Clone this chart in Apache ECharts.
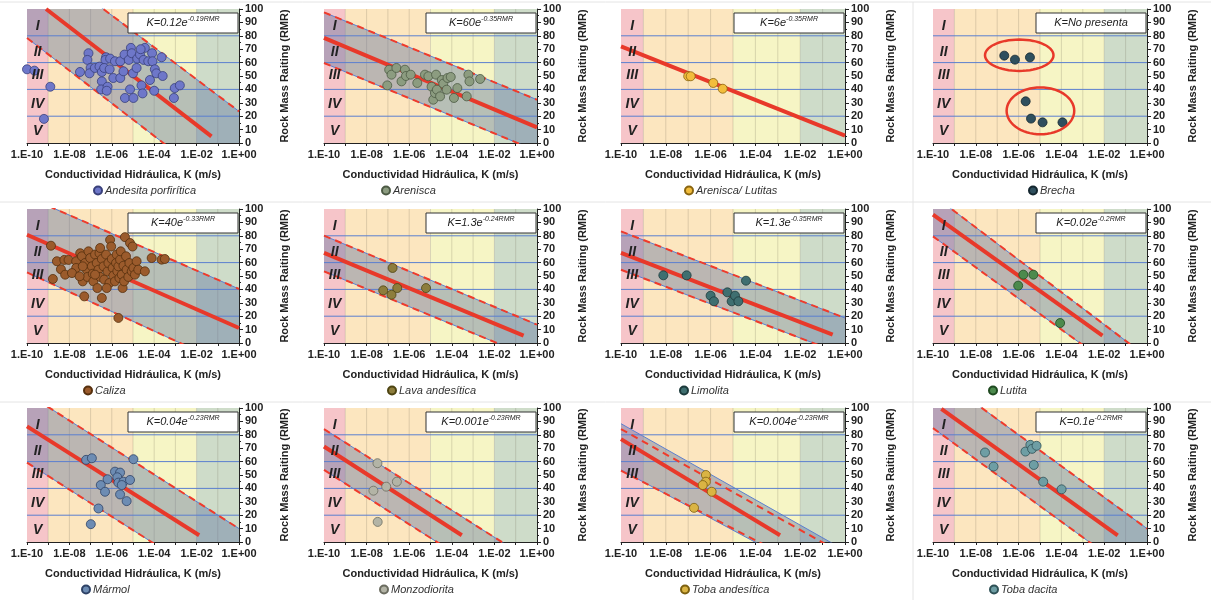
<!DOCTYPE html>
<html>
<head>
<meta charset="utf-8">
<script src="https://cdn.jsdelivr.net/npm/echarts@6/dist/echarts.min.js"></script>
<style>
  html, body { margin: 0; padding: 0; background: #fff; }
  #chart { width: 1211px; height: 600px; }
</style>
</head>
<body>
<div id="chart"></div>
<script>
// x values are log10 of K (m/s), y values are RMR
const xMin = -10, xMax = 0;
const zoneNames = ['I', 'II', 'III', 'IV', 'V'];
const zoneRMR = [87, 68, 51, 29, 9];
const zoneLogK = -9.5;
const bandSpans = [[-10, -9], [-9, -5], [-5, -2], [-2, 0]];
const bandColors = ['#f6c5c9', '#fce6bf', '#f6f5c5', '#cedcc9'];
const blueLines = [20, 40, 60, 80];
const decades = [-9, -8, -7, -6, -5, -4, -3, -2, -1];

const rockNames = ['Andesita porfirítica', 'Arenisca', 'Arenisca/ Lutitas', 'Brecha', 'Caliza', 'Lava andesítica',
  'Limolita', 'Lutita', 'Mármol', 'Monzodiorita', 'Toba andesítica', 'Toba dacita'];
const eqCoef = ['0.12', '60', '6', null, '40', '1.3', '1.3', '0.02', '0.04', '0.001', '0.004', '0.1'];
const eqExp = ['-0.19', '-0.35', '-0.35', null, '-0.33', '-0.24', '-0.35', '-0.2', '-0.23', '-0.23', '-0.23', '-0.2'];
const pointColors = ['#6e77c9', '#8c9c80', '#f2bd3c', '#2f4f5e', '#9b5b2c', '#8d7d3c', '#3f6f70', '#4c8a4d', '#6d8cb3', '#b3b4a6', '#dab443', '#6e9ea4'];
const pointBorders = ['#39407a', '#4c5a44', '#8a6510', '#14262e', '#56300e', '#4d4412', '#1c3a3b', '#1f4a20', '#2e4266', '#6b6c60', '#7c6010', '#2e5156'];

// [log10 K, RMR]
const andesitaPorfiritica = [[-10.0,55],[-9.65,54],[-8.9,42],[-9.2,18],[-7.5,53],[-7.1,67],[-7.15,62],[-7.0,56],[-7.05,52],[-6.8,56],
  [-6.58,57],[-6.47,53],[-6.47,46],[-6.5,40],[-6.27,64],[-6.3,62],[-6.2,42],[-6.24,39],[-6.36,56],[-6.1,55],[-6.08,63],[-5.93,48.5],
  [-5.85,61],[-5.6,61],[-5.6,48.5],[-5.45,53.5],[-5.4,66],[-5.38,33.6],[-5.2,62],[-5.14,40],[-5.1,71],[-5.06,67],[-4.98,33.6],[-5.0,52],
  [-4.83,56],[-4.8,63],[-4.67,66],[-4.6,43],[-4.55,37],[-4.44,71],[-4.5,62],[-4.64,70],[-4.28,61],[-4.2,47],[-4.1,67],[-4.08,61],
  [-4.0,39],[-3.97,55],[-3.9,52],[-3.65,64],[-3.6,50],[-3.07,33.6],[-3.03,41],[-2.79,43]];
const arenisca = [[-7.03,43],[-6.94,54.7],[-6.83,51],[-6.6,56],[-6.36,46],[-6.2,54.7],[-6.15,50],[-5.93,51],[-5.62,44.8],[-5.26,51],
  [-5.1,49.8],[-4.95,42],[-4.87,32.3],[-4.79,37.3],[-4.74,51],[-4.7,39.8],[-4.55,34.8],[-4.47,47],[-4.4,44.3],[-4.24,39.8],[-4.2,48.5],
  [-4.05,49.3],[-3.9,33.6],[-3.74,41],[-3.3,34.8],[-3.22,51],[-3.17,46],[-2.67,47.8]];
const areniscaLutitas = [[-7.0,49.8],[-6.89,49.8],[-5.88,44.8],[-5.46,40.5]];
const brecha = [[-6.67,65.2],[-6.17,62.2],[-5.47,63.9],[-5.67,31.1],[-5.42,18.2],[-4.88,15.4],[-3.95,15.4]];
const caliza = [[-8.87,72.6],[-8.78,47.8],[-8.59,61],[-8.4,55],[-8.24,62],[-8.2,51],[-8.04,62],[-7.68,61],[-7.49,67],[-7.41,64.7],
  [-7.37,46],[-7.3,34.8],[-7.26,59.7],[-7.18,54.7],[-7.15,49.3],[-7.1,68.4],[-7.02,63.4],[-6.94,57.2],[-6.9,51.7],[-6.87,46],[-6.79,66],
  [-6.71,59.7],[-6.68,41],[-6.63,54.7],[-6.58,67],[-6.55,49.3],[-6.47,62.7],[-6.47,33.6],[-6.39,57.2],[-6.36,47.3],[-6.27,66],[-6.2,53.5],
  [-6.16,59.7],[-6.11,44.8],[-6.08,77],[-6.03,72],[-6.0,62.7],[-5.96,56],[-5.93,50.2],[-5.85,46],[-5.8,59.7],[-5.77,66],[-5.74,53.5],
  [-5.69,57.2],[-5.69,18.7],[-5.64,48.5],[-5.61,62.2],[-5.58,68.4],[-5.53,51],[-5.49,41],[-5.45,57.7],[-5.42,46],[-5.38,79],[-5.33,64.7],
  [-5.3,54.7],[-5.22,49.3],[-5.17,59.7],[-5.14,74.6],[-5.06,53.5],[-5.02,72],[-4.98,56],[-4.91,51],[-4.83,61],[-4.75,54.7],[-4.44,53.5],
  [-4.12,63.4],[-3.65,62.2],[-3.5,62.7],[-7.68,56],[-7.88,52.2],[-7.37,57.2],[-7.52,49.8],[-6.24,41],[-6.79,51],[-6.55,70.9]];
const lavaAndesitica = [[-6.78,56],[-7.22,39.3],[-6.83,36],[-6.56,41],[-5.21,41]];
const limolita = [[-8.11,50.5],[-7.07,50.5],[-6.0,35.3],[-5.85,31.1],[-5.25,37.8],[-5.06,31.1],[-4.91,35.3],[-4.76,31.1],[-4.42,46.5]];
const lutita = [[-5.78,51],[-5.31,51],[-6.02,42.8],[-4.06,14.9]];
const marmol = [[-7.21,61.3],[-6.94,62.5],[-4.98,61.8],[-5.85,52.5],[-5.61,51.8],[-5.74,48.3],[-5.69,44.3],[-5.45,45],[-5.14,46.3],
  [-6.2,46.8],[-6.52,42.5],[-6.32,37.5],[-5.61,35.5],[-5.3,30.5],[-6.63,25],[-6.99,13.3],[-5.53,42.5]];
const monzodiorita = [[-7.49,58.8],[-7.68,38.3],[-7.08,41.3],[-6.58,45],[-7.48,15]];
const tobaAndesitica = [[-6.21,50],[-6.21,45],[-6.35,42.5],[-5.95,37.5],[-6.74,25.5]];
const tobaDacita = [[-7.57,66.8],[-7.17,56.3],[-5.68,67.5],[-5.45,72.5],[-5.37,69.5],[-5.16,71.8],[-5.29,57.5],[-4.85,45],[-3.99,39.3]];

const pointSets = [andesitaPorfiritica, arenisca, areniscaLutitas, brecha, caliza, lavaAndesitica,
  limolita, lutita, marmol, monzodiorita, tobaAndesitica, tobaDacita];

// red fit lines (end points)
const fitLines = [
  [[-9.1,100],[-1.3,5]], [[-10,78.4],[0,11.7]], [[-10,72.1],[0,5.5]], null,
  [[-10,80.8],[0,11.2]], [[-10,67.2],[-0.63,5.5]], [[-10,67.2],[-0.55,6.2]], [[-10,95.8],[-2.08,5.5]],
  [[-10,86.3],[-1.88,5]], [[-10,71.3],[-3.53,5]], [[-10,76.8],[-2.9,5]], [[-9.61,99.3],[-1.37,5]]
];
// envelope edges, values at log K = -10 and 0
const upperEdges = [
  [[-10,143],[0,23.6]], [[-10,97.5],[0,32.3]], null, null,
  [[-10,109.2],[0,40.3]], [[-10,80.1],[0,13.7]], [[-10,83.3],[0,18.7]], [[-10,110.4],[0,-10.4]],
  [[-10,110.8],[0,10]], [[-10,84.3],[0,-16.7]], [[-10,88.3],[0,-6.3]], [[-10,126.6],[0,10]]
];
const lowerEdges = [
  [[-10,78.4],[0,-43.5]], [[-10,59.7],[0,-6]], null, null,
  [[-10,52.7],[0,-20.3]], [[-10,53.5],[0,-12.4]], [[-10,54.7],[0,-9]], [[-10,79.6],[0,-36.3]],
  [[-10,59.3],[0,-41.6]], [[-10,53.8],[0,-47.7]], [[-10,53.8],[0,-36.2]], [[-10,85],[0,-31.4]]
];
// toba andesitica dashed lines sit a bit off the band edges
const tobaDashUpper = [[-10,84.3],[0,-9.8]];
const tobaDashLower = [[-10,53.3],[0,-33.3]];
const dashUpper = upperEdges.map((e, i) => i === 10 ? tobaDashUpper : e);
const dashLower = lowerEdges.map((e, i) => i === 10 ? tobaDashLower : e);

// brecha ellipses: [centre log K, centre RMR, half width (decades), half height (RMR)]
const brechaEllipses = [[-5.97, 65.5, 1.6, 11.7], [-4.98, 24, 1.58, 17.5]];

const colLeft = [27, 324, 621, 933];
const colWidth = [212, 213, 224, 214];
const rowTop = [9, 209, 408];
const plotH = 134;
const legendLeft = [93, 381, 684, 1028, 83, 387, 679, 988, 81, 379, 680, 989];
const FONT = '"Liberation Sans", Arial, sans-serif';
const RED = '#e8392a';

function expLabel(v) {
  if (v === 0) return '1.E+00';
  return '1.E-' + String(-v).padStart(2, '0');
}

const grids = [], xAxes = [], yAxes = [], series = [], legends = [], graphics = [];

for (let i = 0; i < 12; i++) {
  const col = i % 4, row = Math.floor(i / 4);
  const left = colLeft[col], top = rowTop[row], width = colWidth[col];
  grids.push({ left: left, top: top, width: width, height: plotH, outerBoundsMode: 'none' });
  xAxes.push({
    gridIndex: i, type: 'value', min: xMin, max: xMax, interval: 1,
    axisLine: { show: true, onZero: false, lineStyle: { color: '#222' } },
    axisTick: { show: true, length: 3, lineStyle: { color: '#222' } },
    axisLabel: {
      formatter: v => (v % 2 === 0 ? expLabel(v) : ''),
      fontWeight: 'bold', fontSize: 11, color: '#222', margin: 6, fontFamily: FONT
    },
    splitLine: { show: false },
    name: 'Conductividad Hidráulica, K (m/s)', nameLocation: 'middle', nameGap: 26,
    nameTextStyle: { fontWeight: 'bold', fontSize: 11, color: '#222', fontFamily: FONT }
  });
  yAxes.push({
    gridIndex: i, type: 'value', position: 'right', min: 0, max: 100, interval: 10,
    axisLine: { show: true, lineStyle: { color: '#222' } },
    axisTick: { show: true, length: 4, lineStyle: { color: '#222' } },
    minorTick: { show: true, splitNumber: 2, length: 2, lineStyle: { color: '#222' } },
    axisLabel: { fontWeight: 'bold', fontSize: 11, color: '#222', margin: 6, fontFamily: FONT },
    splitLine: { show: false },
    name: 'Rock Mass Raiting (RMR)', nameLocation: 'middle', nameRotate: 90, nameGap: 40,
    nameTextStyle: { fontWeight: 'bold', fontSize: 11, color: '#222', fontFamily: FONT }
  });

  const base = { xAxisIndex: i, yAxisIndex: i, silent: true, animation: false };

  // background bands
  series.push(Object.assign({}, base, {
    type: 'custom', z: 1, data: bandSpans,
    renderItem: (params, api) => {
      const p0 = api.coord([api.value(0), 100]);
      const p1 = api.coord([api.value(1), 0]);
      return { type: 'rect', shape: { x: p0[0], y: p0[1], width: p1[0] - p0[0], height: p1[1] - p0[1] },
        style: { fill: bandColors[params.dataIndex] } };
    }
  }));
  // faint decade lines
  series.push(Object.assign({}, base, {
    type: 'custom', z: 2, data: decades.map(d => [d]),
    renderItem: (params, api) => {
      const p0 = api.coord([api.value(0), 100]);
      const p1 = api.coord([api.value(0), 0]);
      return { type: 'line', shape: { x1: p0[0], y1: p0[1], x2: p1[0], y2: p1[1] },
        style: { stroke: 'rgba(110,100,80,0.22)', lineWidth: 1 } };
    }
  }));

  // band polygon
  if (upperEdges[i]) {
    const poly = [upperEdges[i][0], upperEdges[i][1], lowerEdges[i][1], lowerEdges[i][0]];
    series.push(Object.assign({}, base, {
      type: 'custom', z: 3, clip: true, data: poly,
      renderItem: (params, api) => {
        if (params.dataIndex !== 0) return null;
        return { type: 'polygon', shape: { points: poly.map(p => api.coord(p)) },
          style: { fill: 'rgba(90,110,160,0.4)' } };
      }
    }));
  }

  // blue horizontal lines
  series.push(Object.assign({}, base, {
    type: 'custom', z: 4, data: blueLines.map(v => [xMin, v]),
    renderItem: (params, api) => {
      const p0 = api.coord([xMin, api.value(1)]);
      const p1 = api.coord([xMax, api.value(1)]);
      return { type: 'line', shape: { x1: p0[0], y1: p0[1], x2: p1[0], y2: p1[1] },
        style: { stroke: '#5b7fcf', lineWidth: 1 } };
    }
  }));

  if (upperEdges[i]) {
    [upperEdges[i], lowerEdges[i]].forEach(edge => {
      series.push(Object.assign({}, base, {
        type: 'line', z: 5, data: edge, symbol: 'none', clip: true,
        lineStyle: { color: '#5b7fcf', width: 1 }
      }));
    });
    [dashUpper[i], dashLower[i]].forEach(edge => {
      series.push(Object.assign({}, base, {
        type: 'line', z: 6, data: edge, symbol: 'none', clip: true,
        lineStyle: { color: '#f03b2b', width: 2, type: [7, 5] }
      }));
    });
  }

  if (fitLines[i]) {
    series.push(Object.assign({}, base, {
      type: 'line', z: 7, data: fitLines[i], symbol: 'none', clip: true,
      lineStyle: { color: RED, width: 4 }
    }));
  }

  if (i === 3) {
    series.push(Object.assign({}, base, {
      type: 'custom', z: 9, data: brechaEllipses,
      renderItem: (params, api) => {
        const c = api.coord([api.value(0), api.value(1)]);
        const s = api.size([api.value(2), api.value(3)]);
        const pts = [];
        for (let k = 0; k < 60; k++) {
          const a = k / 60 * Math.PI * 2;
          pts.push([c[0] + s[0] * Math.cos(a), c[1] + s[1] * Math.sin(a)]);
        }
        return { type: 'polygon', shape: { points: pts }, style: { fill: 'none', stroke: RED, lineWidth: 2.5 } };
      }
    }));
  }

  // points
  series.push({
    name: rockNames[i], type: 'scatter', xAxisIndex: i, yAxisIndex: i, z: 8, animation: false,
    data: pointSets[i], symbol: 'circle', symbolSize: 9, clip: false,
    itemStyle: { color: pointColors[i], borderColor: pointBorders[i], borderWidth: 0.8, opacity: 1 }
  });

  // zone numerals
  series.push(Object.assign({}, base, {
    type: 'custom', z: 10, data: zoneRMR.map(v => [zoneLogK, v]),
    renderItem: (params, api) => {
      const p = api.coord([api.value(0), api.value(1)]);
      return { type: 'text', x: p[0], y: p[1],
        style: { text: zoneNames[params.dataIndex], font: 'italic bold 14px ' + FONT, fill: '#222',
          align: 'center', verticalAlign: 'middle' } };
    }
  }));

  legends.push({
    data: [rockNames[i]], left: legendLeft[i], top: top + 176, icon: 'circle', itemWidth: 8, itemHeight: 8,
    padding: 0, selectedMode: false,
    textStyle: { fontStyle: 'italic', fontSize: 11, color: '#333', fontFamily: FONT, padding: [0, 0, 0, -2] }
  });

  // equation box
  const bx = left + width - 111, by = top + 4;
  const eqText = eqCoef[i] ? '{a|K=' + eqCoef[i] + 'e}{b|' + eqExp[i] + 'RMR}' : '{a|K=No presenta}';
  graphics.push({ type: 'rect', shape: { x: bx, y: by, width: 110, height: 20 },
    style: { fill: '#fff', stroke: '#333', lineWidth: 1 }, z: 100, silent: true });
  graphics.push({ type: 'text', x: bx + 55, y: by + 10, z: 101, silent: true,
    style: { text: eqText, align: 'center', verticalAlign: 'middle',
      rich: {
        a: { fontSize: 11, fontStyle: 'italic', fontFamily: FONT, fill: '#222', lineHeight: 14 },
        b: { fontSize: 7, fontStyle: 'italic', fontFamily: FONT, fill: '#222', verticalAlign: 'top' }
      } } });
}

// light panel separators
[2, 202, 402].forEach(y => graphics.push({ type: 'line', shape: { x1: 0, y1: y, x2: 1211, y2: y },
  style: { stroke: '#e4e4e4', lineWidth: 1 }, silent: true }));
graphics.push({ type: 'line', shape: { x1: 913, y1: 2, x2: 913, y2: 600 }, style: { stroke: '#e4e4e4', lineWidth: 1 }, silent: true });

const chart = echarts.init(document.getElementById('chart'));
chart.setOption({
  animation: false,
  backgroundColor: '#fff',
  textStyle: { fontFamily: FONT },
  grid: grids,
  xAxis: xAxes,
  yAxis: yAxes,
  legend: legends,
  graphic: graphics,
  series: series
});
</script>
</body>
</html>
